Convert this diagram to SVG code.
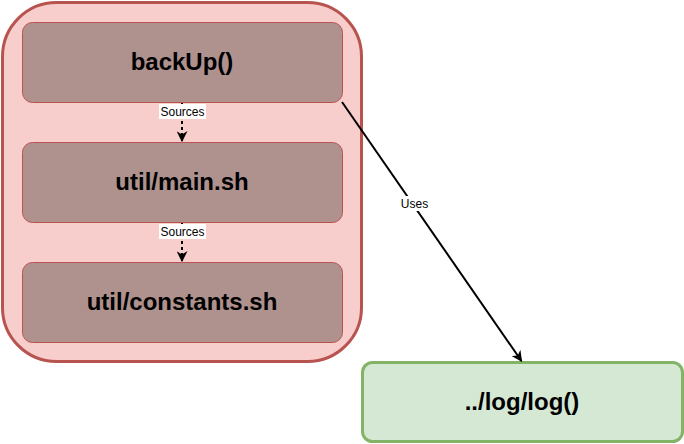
<svg xmlns="http://www.w3.org/2000/svg" width="684" height="444" viewBox="0 0 684 444">
<style>
.inner{fill:#af918e;stroke:#b85450;stroke-width:1}
.big{font-family:"Liberation Sans",Arial,sans-serif;font-size:24px;font-weight:bold;fill:#000;text-anchor:middle}
.lbl{font-family:"Liberation Sans",Arial,sans-serif;font-size:12px;fill:#000;text-anchor:middle}
.conn{stroke:#000;stroke-width:2;fill:none}
</style>
<defs>
<marker id="arr" viewBox="0 0 10 10" refX="9" refY="5" markerWidth="11" markerHeight="11" markerUnits="userSpaceOnUse" orient="auto">
<path d="M0,0 L10,5 L0,10 L3,5 Z" fill="#000"/>
</marker>
</defs>
<rect width="684" height="444" fill="#fff"/>
<g id="container">
<rect x="2.5" y="2.5" width="359" height="359" rx="54" ry="54" fill="#f8cecc" stroke="#b85450" stroke-width="3"/>
</g>
<g id="backup">
<rect class="inner" x="22.5" y="22.5" width="320" height="80" rx="10" ry="10"/>
<text class="big" x="182" y="70">backUp()</text>
</g>
<g id="main">
<rect class="inner" x="22.5" y="142.5" width="320" height="80" rx="10" ry="10"/>
<text class="big" x="182" y="190">util/main.sh</text>
</g>
<g id="constants">
<rect class="inner" x="22.5" y="262.5" width="320" height="80" rx="10" ry="10"/>
<text class="big" x="182" y="310">util/constants.sh</text>
</g>
<g id="log">
<rect x="362.5" y="362.5" width="320" height="79" rx="10" ry="10" fill="#d5e8d4" stroke="#82b366" stroke-width="3"/>
<text class="big" x="522" y="410">../log/log()</text>
</g>
<g id="connectors">
<line class="conn" x1="182" y1="103" x2="182" y2="141" stroke-width="1.2" stroke-dasharray="3 3" marker-end="url(#arr)"/>
<rect x="159" y="104" width="47" height="15" fill="#fff"/>
<text class="lbl" x="182.5" y="116">Sources</text>
<line class="conn" x1="182" y1="223" x2="182" y2="261" stroke-width="1.2" stroke-dasharray="3 3" marker-end="url(#arr)"/>
<rect x="159" y="224" width="47" height="15" fill="#fff"/>
<text class="lbl" x="182.5" y="236">Sources</text>
<line class="conn" x1="342" y1="102" x2="521.5" y2="361" marker-end="url(#arr)"/>
<rect x="399" y="196" width="31" height="15" fill="#fff"/>
<text class="lbl" x="414.5" y="208">Uses</text>
</g>
</svg>
